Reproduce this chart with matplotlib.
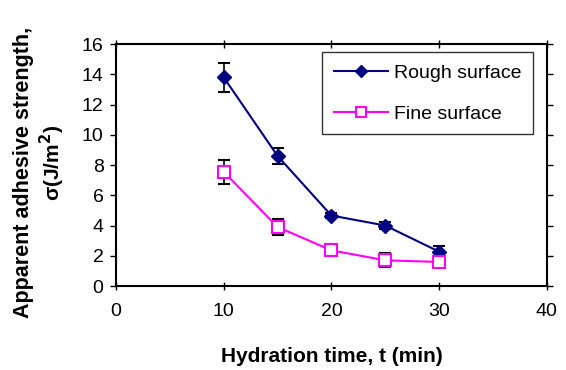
import matplotlib
matplotlib.use("Agg")
import matplotlib.pyplot as plt

plt.rcParams['font.family'] = ['Liberation Sans', 'DejaVu Sans']

# 数据
time = [10, 15, 20, 25, 30]
rough = [13.8, 8.6, 4.66, 4.0, 2.27]
rough_err = [0.95, 0.55, 0.15, 0.25, 0.4]
fine = [7.55, 3.9, 2.36, 1.7, 1.59]
fine_err = [0.8, 0.5, 0.2, 0.45, 0.2]

x_ticks = [0, 10, 20, 30, 40]
y_ticks = [0, 2, 4, 6, 8, 10, 12, 14, 16]

fig = plt.figure(figsize=(5.66, 3.70), dpi=100)
ax = fig.add_axes([0.205, 0.227, 0.761, 0.654])

# 误差棒
ax.errorbar(time, rough, yerr=rough_err, fmt='none', ecolor='black',
            elinewidth=1.2, capsize=4.5, capthick=1.5, zorder=2)
ax.errorbar(time, fine, yerr=fine_err, fmt='none', ecolor='black',
            elinewidth=1.2, capsize=4.5, capthick=1.5, zorder=2)

ax.plot(time, rough, color='#000080', marker='D', markersize=7.5,
        markerfacecolor='#000080', markeredgecolor='#000080', linewidth=1.5,
        label='Rough surface', zorder=3)
ax.plot(time, fine, color='#ff00ff', marker='s', markersize=8,
        markerfacecolor='white', markeredgecolor='#ff00ff', markeredgewidth=1.5,
        linewidth=1.5, label='Fine surface', zorder=3)

ax.set_xlim(0, 40)
ax.set_ylim(0, 16)
ax.set_xticks(x_ticks)
ax.set_yticks(y_ticks)
ax.tick_params(axis='both', labelsize=14, length=4, width=1)
ax.tick_params(axis='x', direction='inout', length=6, pad=9)
ax.tick_params(axis='y', direction='out', pad=5)
ax.tick_params(top=True, right=True, labeltop=False, labelright=False)
for s in ax.spines.values():
    s.set_linewidth(1.5)

ax.set_xlabel('Hydration time, t (min)', fontsize=15, fontweight='bold', labelpad=20)

# 纵坐标标题分两行
fig.text(0.041, 0.535, 'Apparent adhesive strength,', rotation=90, fontsize=15.5,
         fontweight='bold', ha='center', va='center')
fig.text(0.093, 0.56, 'σ(J/m$^\\mathbf{2}$)', rotation=90, fontsize=15,
         fontweight='bold', ha='center', va='center')

leg = ax.legend(loc='upper left', bbox_to_anchor=(0.478, 0.965), fontsize=14,
                frameon=True, fancybox=False, edgecolor='black', handlelength=2.8,
                borderpad=0.6, labelspacing=1.2, handletextpad=0.3,
                borderaxespad=0, markerscale=0.85)
leg.get_frame().set_linewidth(1.0)

plt.savefig('out.png', dpi=100)
